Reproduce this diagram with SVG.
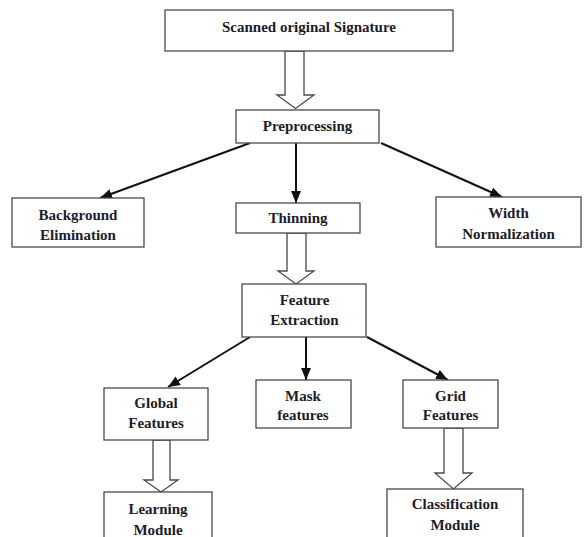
<svg xmlns="http://www.w3.org/2000/svg" width="584" height="537" viewBox="0 0 584 537">
<defs>
<style>
.box{fill:#fff;stroke:#4a4a4a;stroke-width:1.3}
.t{font-family:"Liberation Serif","Times New Roman",serif;font-weight:bold;font-size:15px;fill:#1c1c2a;text-anchor:middle}
.ln{stroke:#111;stroke-width:2;fill:none}
.ha{fill:#fff;stroke:#4a4a4a;stroke-width:1.3;stroke-linejoin:miter}
</style>
<marker id="ah" markerUnits="userSpaceOnUse" markerWidth="13" markerHeight="11" refX="12" refY="5" orient="auto">
<path d="M0,0 L12,5 L0,10 z" fill="#111"/>
</marker>
</defs>
<rect width="584" height="537" fill="#fff"/>
<g id="connectors">
<polygon class="ha" points="285,51 304,51 304,95 314,95 295.5,108.5 277,95 285,95"/>
<line class="ln" x1="250" y1="143" x2="100" y2="198" marker-end="url(#ah)"/>
<line class="ln" x1="296" y1="143" x2="296" y2="203" marker-end="url(#ah)"/>
<line class="ln" x1="381" y1="143" x2="502" y2="197" marker-end="url(#ah)"/>
<polygon class="ha" points="287,233 306,233 306,271 314,271 296,284 278,271 287,271"/>
<line class="ln" x1="250" y1="337" x2="168" y2="387" marker-end="url(#ah)"/>
<line class="ln" x1="306" y1="337" x2="306" y2="380" marker-end="url(#ah)"/>
<line class="ln" x1="367" y1="337" x2="448" y2="380" marker-end="url(#ah)"/>
<polygon class="ha" points="153,440 170,440 170,480 178,480 161,492 144,480 153,480"/>
<polygon class="ha" points="444,428 463,428 463,473 472,473 453.5,489 435,473 444,473"/>
</g>
<g id="scanned"><rect class="box" x="165" y="10" width="288" height="41"/><text class="t" x="309" y="32">Scanned original Signature</text></g>
<g id="preprocessing"><rect class="box" x="236" y="110" width="143" height="33"/><text class="t" x="307.5" y="131">Preprocessing</text></g>
<g id="background"><rect class="box" x="12" y="198" width="132" height="49"/><text class="t" x="78" y="220">Background</text><text class="t" x="78" y="240">Elimination</text></g>
<g id="thinning"><rect class="box" x="236" y="203" width="124" height="30"/><text class="t" x="298" y="223">Thinning</text></g>
<g id="width"><rect class="box" x="436" y="197" width="145" height="50"/><text class="t" x="508.5" y="218">Width</text><text class="t" x="508.5" y="239">Normalization</text></g>
<g id="feature"><rect class="box" x="242" y="284" width="124" height="53"/><text class="t" x="304.5" y="305">Feature</text><text class="t" x="304.5" y="325">Extraction</text></g>
<g id="global"><rect class="box" x="104" y="388" width="104" height="52"/><text class="t" x="156" y="408">Global</text><text class="t" x="156" y="428">Features</text></g>
<g id="mask"><rect class="box" x="256" y="380" width="95" height="48"/><text class="t" x="303" y="401">Mask</text><text class="t" x="303" y="420">features</text></g>
<g id="grid"><rect class="box" x="403" y="380" width="95" height="48"/><text class="t" x="450.5" y="401">Grid</text><text class="t" x="450.5" y="420">Features</text></g>
<g id="learning"><rect class="box" x="104" y="492" width="108" height="60"/><text class="t" x="158" y="514">Learning</text><text class="t" x="158" y="535">Module</text></g>
<g id="classification"><rect class="box" x="387" y="489" width="136" height="60"/><text class="t" x="455" y="509">Classification</text><text class="t" x="455" y="530">Module</text></g>
</svg>
